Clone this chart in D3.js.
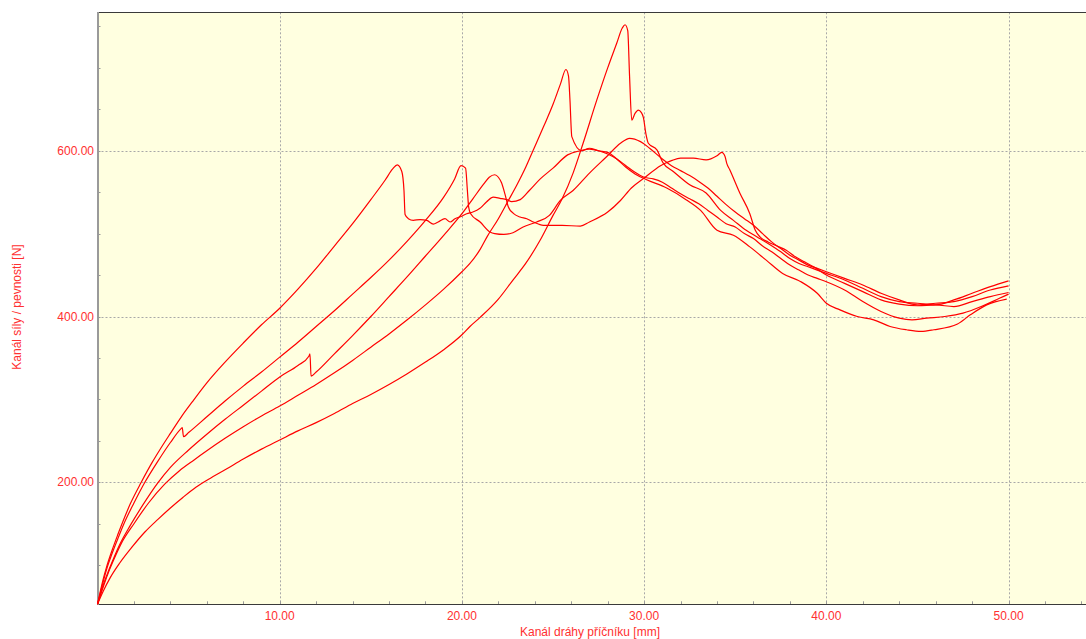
<!DOCTYPE html>
<html>
<head>
<meta charset="utf-8">
<script src="https://cdn.jsdelivr.net/npm/d3@7"></script>
<style>
  html, body { margin: 0; padding: 0; background: #ffffff; }
  svg { display: block; }
  text { font-family: "Liberation Sans", Arial, sans-serif; }
</style>
</head>
<body>
<svg id="chart" width="1086" height="639"></svg>
<script>
// Force vs. crosshead travel, five specimens: [travel mm, force N]
const specimen1 = [[0,53],[0.15,68],[0.3,82],[0.5,98],[0.8,118],[1.1,136],[1.4,153],[1.8,174],[2.4,200],[3.0,224],[3.5,242],[4.0,259],[4.6,279],[5.2,297],[6,320],[7,345],[8,368],[9,390],[10,410],[11,433],[12,458],[13,485],[14,512],[15,541],[15.8,565],[16.2,578],[16.45,583],[16.7,575],[16.82,552],[16.88,523],[17.06,518],[17.33,516],[17.7,517],[18.07,516],[18.43,511.5],[18.7,514],[19.07,518],[19.35,514],[19.62,518],[19.99,521],[20.26,524],[20.6,526],[20.99,530.5],[21.36,538.5],[21.72,544],[22.09,542.6],[22.46,541],[22.73,538.5],[23.2,541],[23.7,552],[24.3,566],[25.0,579],[25.8,595],[26.5,600],[27,602],[27.5,600],[28,596],[28.5,590],[29,582],[29.5,574],[30,568],[30.5,566],[31,562],[31.5,555],[32,548],[32.5,542],[33,536],[33.5,528],[34,520],[34.5,512],[35,508],[35.5,500],[36,494],[36.5,485],[37,478],[37.5,470],[38,462],[38.5,456],[39,450],[39.5,446],[40,442],[41,432],[42,418],[43,406],[44,398],[44.7,396],[45.5,398],[46.5,400],[47.5,404],[48.5,412],[49.5,422],[50,427]];

const specimen2 = [[0,53],[0.15,66],[0.3,79],[0.5,95],[0.8,114],[1.1,131],[1.45,150],[2.0,175],[2.6,200],[3.3,225],[4.0,248],[4.6,265],[4.65,266],[4.72,255],[5,260],[6,279],[7,298],[8,316],[9,333],[10,351],[11,369],[12,388],[13,407],[14,427],[15,447],[16,468],[17,491],[18,516],[19,544],[19.6,566],[19.95,582],[20.2,579],[20.3,552],[20.37,532],[20.48,524],[21.0,514],[21.54,502],[21.8,500],[22.3,499],[22.8,501],[23.36,508],[24.1,514],[24.8,522],[25.4,540],[26.1,552],[27.0,573],[27.95,593],[28.7,609],[29.2,615],[29.8,611],[30.3,603],[31,590],[31.5,582],[32,576],[32.5,570],[33,563],[33.5,555],[34,545],[34.5,535],[35,526],[35.5,518],[36,510],[36.5,500],[37,490],[37.5,482],[38,474],[38.5,468],[39,462],[39.5,458],[40,454],[41,446],[42,438],[43,428],[44,420],[45,414],[46,416],[47,418],[48,424],[49,432],[50,437]];

const specimen3 = [[0,53],[0.15,64],[0.3,75],[0.6,93],[0.9,109],[1.2,124],[1.8,148],[2.5,173],[3.3,199],[4,218],[5,239],[6,258],[7,276],[8,293],[9,310],[10,327],[11,341],[11.6,352],[11.66,355],[11.72,328],[12,333],[13,355],[14,377],[15,400],[16,424],[17,448],[18,473],[19,498],[20,524],[20.6,542],[21.2,560],[21.5,568],[21.8,571],[22.0,568],[22.18,561],[22.37,547],[22.55,532],[22.82,524.5],[23.19,520],[23.56,518],[23.92,514],[24.47,510],[25.5,510],[26.5,509],[27,514],[28,526],[28.7,540],[29.3,555],[30,567],[30.9,582],[31.5,588],[32,591],[32.7,591],[33.4,589],[34,594],[34.26,598],[34.44,593],[34.53,585],[34.7,577],[35.25,549],[35.8,524],[36.1,504],[36.36,496],[36.8,490],[37.3,485],[37.8,480],[38.3,472],[38.8,466],[39.3,460],[40,450],[41,440],[42,430],[43,420],[44,415],[45,413],[46,414],[47,412],[48,418],[49,424],[50,429]];

const specimen4 = [[0,53],[0.15,63],[0.35,76],[0.65,94],[1.0,112],[1.3,126],[2.0,150],[2.8,175],[3.7,198],[4.5,214],[5.3,227],[6,238],[7,253],[8,267],[9,280],[10,292],[11,305],[12,318],[13,332],[14,347],[15,363],[16,379],[17,396],[18,414],[19,433],[20,454],[20.44,464],[21,481],[21.4,497],[22,518],[22.5,538],[23,558],[23.5,580],[23.9,600],[24.5,630],[25,656],[25.4,680],[25.71,698],[25.85,690],[25.93,661],[26.03,617],[26.57,600],[27,603],[27.5,600],[28,598],[28.5,590],[29,580],[29.5,572],[30.14,565],[31.24,555],[32.3,541],[33.1,528],[34,504],[34.9,498],[35.8,484],[36.7,468],[37.6,452],[38.6,442],[39.5,428],[40,416],[40.75,408],[41.7,400],[42.6,396],[43.5,388],[44.4,384],[45.2,382],[45.9,384],[47.2,391],[47.9,402],[48.8,414],[49.9,421]];

const specimen5 = [[0,53],[0.3,68],[0.7,85],[1.2,102],[1.9,122],[2.6,140],[3.3,155],[4.0,169],[4.7,182],[5.4,194],[6.2,205],[7.0,215],[8.0,228],[9,240],[10,251],[11,262],[12,272],[13,283],[14,295],[15,306],[16,318],[17,331],[18,345],[19,360],[20,378],[20.44,388],[21,399],[22,421],[22.8,444],[23.5,464],[24.29,492],[25.0,522],[25.5,542],[26.1,573],[26.65,609],[27.4,661],[28.0,700],[28.5,730],[28.8,748],[28.95,752],[29.1,745],[29.2,690],[29.32,637],[29.5,645],[29.68,649],[29.85,646],[29.96,640],[30.1,620],[30.23,609],[30.7,601],[31.05,585],[31.6,575],[32.5,559],[33.4,549],[34.2,528],[34.9,516],[35.6,504],[36.2,496],[36.8,488],[37.5,478],[38,470],[38.5,464],[39,460],[39.5,456],[40,452],[41,444],[42,434],[43,424],[44,418],[45,416],[46,414],[47,420],[48,428],[49,436],[50,443]];

const xMajorTicks = [10, 20, 30, 40, 50];
const yMajorTicks = [200, 400, 600];
const xTitle = "Kanál dráhy příčníku  [mm]";
const yTitle = "Kanál síly / pevnosti  [N]";

const svg = d3.select("#chart");
const plot = { left: 97.5, top: 12.3, right: 1086, bottom: 604.3 };

const x = d3.scaleLinear().domain([0, 54.25]).range([plot.left, plot.right]);
const y = d3.scaleLinear().domain([52.8, 767]).range([plot.bottom, plot.top]);

const red = "#ff0000";
const labelRed = "#ff3030";

// plot background
svg.append("rect")
  .attr("x", plot.left).attr("y", plot.top)
  .attr("width", plot.right - plot.left).attr("height", plot.bottom - plot.top)
  .attr("fill", "#ffffe0");

// dotted grid
const grid = svg.append("g").attr("stroke", "#a8a8a8").attr("stroke-width", 1).attr("stroke-dasharray", "2,2");
grid.selectAll(".gx").data(xMajorTicks).enter().append("line")
  .attr("x1", d => Math.round(x(d)) + 0.5).attr("x2", d => Math.round(x(d)) + 0.5)
  .attr("y1", plot.top).attr("y2", plot.bottom);
grid.selectAll(".gy").data(yMajorTicks).enter().append("line")
  .attr("y1", d => Math.round(y(d)) + 0.5).attr("y2", d => Math.round(y(d)) + 0.5)
  .attr("x1", plot.left).attr("x2", plot.right);

// minor ticks pointing into the plot
const xMinor = d3.range(2, 55, 2);
const yMinor = d3.range(100, 767, 50);
const ticks = svg.append("g").attr("stroke", "#999999").attr("stroke-width", 1);
ticks.selectAll(".tx").data(xMinor).enter().append("line")
  .attr("x1", d => Math.round(x(d)) + 0.5).attr("x2", d => Math.round(x(d)) + 0.5)
  .attr("y1", plot.bottom - 3).attr("y2", plot.bottom);
ticks.selectAll(".ty").data(yMinor).enter().append("line")
  .attr("y1", d => Math.round(y(d)) + 0.5).attr("y2", d => Math.round(y(d)) + 0.5)
  .attr("x1", plot.left).attr("x2", plot.left + 3);

// frame
svg.append("line").attr("x1", plot.left).attr("x2", plot.right).attr("y1", 12.5).attr("y2", 12.5)
  .attr("stroke", "#3a3a3a").attr("stroke-width", 1);
svg.append("line").attr("x1", plot.left).attr("x2", plot.right).attr("y1", 604.5).attr("y2", 604.5)
  .attr("stroke", "#3a3a3a").attr("stroke-width", 1);
svg.append("line").attr("x1", 98).attr("x2", 98).attr("y1", 12).attr("y2", 605)
  .attr("stroke", "#9a9a9a").attr("stroke-width", 2);

// curves
const line = d3.line().x(d => x(d[0])).y(d => y(d[1])).curve(d3.curveMonotoneX);
const curves = [specimen1, specimen2, specimen3, specimen4, specimen5];
svg.append("g").selectAll("path").data(curves).enter().append("path")
  .attr("d", line)
  .attr("fill", "none")
  .attr("stroke", red)
  .attr("stroke-width", 1.2)
  .attr("stroke-linejoin", "round");

// tick labels
svg.append("g").selectAll("text").data(yMajorTicks).enter().append("text")
  .attr("x", 94).attr("y", d => y(d) + 4)
  .attr("text-anchor", "end")
  .attr("font-size", 12).attr("fill", labelRed)
  .text(d => d3.format(".2f")(d));
svg.append("g").selectAll("text").data(xMajorTicks).enter().append("text")
  .attr("x", d => x(d)).attr("y", 620)
  .attr("text-anchor", "middle")
  .attr("font-size", 12).attr("fill", labelRed)
  .text(d => d3.format(".2f")(d));

// axis titles
svg.append("text").attr("x", 590).attr("y", 636)
  .attr("text-anchor", "middle").attr("font-size", 12).attr("fill", labelRed)
  .text(xTitle);
svg.append("text")
  .attr("transform", "translate(21,307) rotate(-90)")
  .attr("text-anchor", "middle").attr("font-size", 12).attr("fill", labelRed)
  .text(yTitle);
</script>
</body>
</html>
